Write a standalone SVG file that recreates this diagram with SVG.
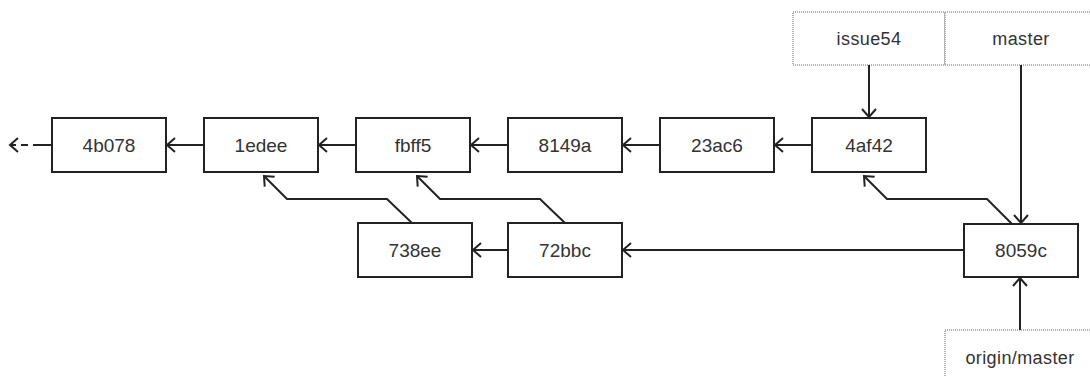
<svg xmlns="http://www.w3.org/2000/svg" width="1090" height="377" viewBox="0 0 1090 377">
<defs>
<marker id="ah" markerUnits="userSpaceOnUse" markerWidth="20" markerHeight="20" viewBox="-10 -10 20 20" refX="0" refY="0" orient="auto" overflow="visible">
<path d="M-8,-7 L0,0 L-8,7" fill="none" stroke="#222" stroke-width="2"/>
</marker>
</defs>
<style>
.c rect{fill:#fff;stroke:#222;stroke-width:2}
.c text{font-family:"Liberation Sans",Arial,sans-serif;font-size:19px;fill:#333;text-anchor:middle}
.l rect{fill:#fff;stroke:#666;stroke-width:1;stroke-dasharray:1 1}
.l text{font-family:"Liberation Sans",Arial,sans-serif;font-size:18px;letter-spacing:0.4px;fill:#333;text-anchor:middle}
.e{fill:none;stroke:#222;stroke-width:2;marker-end:url(#ah)}
</style>
<rect width="1090" height="377" fill="#fff"/>
<g id="labels">
<g id="issue54" class="l"><rect x="793" y="12" width="152" height="53"/><text x="869" y="45">issue54</text></g>
<g id="master" class="l"><rect x="945" y="12" width="152" height="53"/><text x="1021" y="45">master</text></g>
<g id="origin-master" class="l"><rect x="945" y="330" width="152" height="60"/><text x="1020" y="364">origin/master</text></g>
</g>
<g id="connectors">
<path class="e" d="M52,145 L10,145" stroke-dasharray="19 5 7 5 6 100"/>
<path class="e" d="M204,145 L167,145"/>
<path class="e" d="M356,145 L319,145"/>
<path class="e" d="M508,145 L471,145"/>
<path class="e" d="M660,145 L623,145"/>
<path class="e" d="M812,145 L775,145"/>
<path class="e" d="M508,250 L473,250"/>
<path class="e" d="M964,250 L623,250"/>
<path class="e" d="M412,223 L387,199 L287,199 L264,176"/>
<path class="e" d="M565,223 L540,199 L440,199 L417,176"/>
<path class="e" d="M1012,224 L987,199 L887,199 L864,176"/>
<path class="e" d="M869,65 L869,117"/>
<path class="e" d="M1021,65 L1021,223"/>
<path class="e" d="M1020,330 L1020,278"/>
</g>
<g id="n4b078" class="c"><rect x="52" y="118" width="114" height="54"/><text x="109" y="152">4b078</text></g>
<g id="n1edee" class="c"><rect x="204" y="118" width="114" height="54"/><text x="261" y="152">1edee</text></g>
<g id="nfbff5" class="c"><rect x="356" y="118" width="114" height="54"/><text x="413" y="152">fbff5</text></g>
<g id="n8149a" class="c"><rect x="508" y="118" width="114" height="54"/><text x="565" y="152">8149a</text></g>
<g id="n23ac6" class="c"><rect x="660" y="118" width="114" height="54"/><text x="717" y="152">23ac6</text></g>
<g id="n4af42" class="c"><rect x="812" y="118" width="114" height="54"/><text x="869" y="152">4af42</text></g>
<g id="n738ee" class="c"><rect x="358" y="223" width="114" height="54"/><text x="415" y="257">738ee</text></g>
<g id="n72bbc" class="c"><rect x="508" y="223" width="114" height="54"/><text x="565" y="257">72bbc</text></g>
<g id="n8059c" class="c"><rect x="964" y="224" width="114" height="53"/><text x="1021" y="257">8059c</text></g>
</svg>
